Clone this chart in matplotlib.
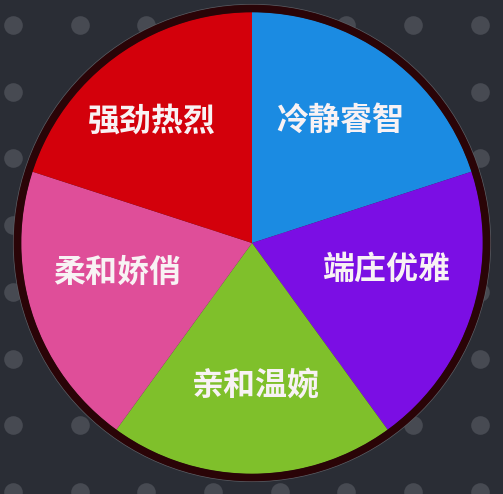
import numpy as np
import matplotlib
matplotlib.use("Agg")
from matplotlib import pyplot as plt
from matplotlib.patches import Circle

plt.rcParams['font.family'] = ['Noto Sans CJK SC', 'DejaVu Sans']

# chart data
labels = ['冷静睿智', '端庄优雅', '亲和温婉', '柔和娇俏', '强劲热烈']
values = [1, 1, 1, 1, 1]
colors = ['#1b8be2', '#7b0ee4', '#7fc02b', '#df4e99', '#d3000b']

# small label nudges (pixels, right / down) to follow the original layout
label_nudge = [(4, -6), (-2, -17), (4, 0), (1, -15), (-16, -6)]

W, H = 503, 494
fig = plt.figure(figsize=(W / 100, H / 100), dpi=100)
ax = fig.add_axes([0, 0, 1, 1])
fig.patch.set_facecolor('#2a2d35')

# dotted background
gx = np.arange(13, W, 66.7)
gy = H - np.arange(25, H + 5, 66.7)
xx, yy = np.meshgrid(gx, gy)
ax.scatter(xx.ravel(), yy.ravel(), s=180, color='#474a52', linewidths=0, zorder=1)

center = (252, H - 243)
radius = 231
wedges, texts = ax.pie(values, labels=labels, colors=colors, startangle=90,
                       counterclock=False, center=center, radius=radius,
                       labeldistance=0.62, frame=True,
                       wedgeprops=dict(edgecolor='none', linewidth=0, zorder=2),
                       textprops=dict(color='#f8f2f4', fontsize=23, fontweight='bold'))
for t, (dx, dy) in zip(texts, label_nudge):
    x, y = t.get_position()
    t.set_position((x + dx, y - dy))
    t.set_ha('center')
    t.set_va('center')
    t.set_zorder(4)

# dark rim with a faint light edge
ax.add_patch(Circle(center, radius + 7.5, fill=False, edgecolor='#5a5c62', linewidth=0.8, zorder=3))
ax.add_patch(Circle(center, radius + 3.5, fill=False, edgecolor='#2a0407', linewidth=5.5, zorder=3))

ax.set_xlim(0, W)
ax.set_ylim(0, H)
ax.set_aspect('equal')
ax.axis('off')

fig.savefig('out.png', dpi=100, facecolor=fig.get_facecolor())
